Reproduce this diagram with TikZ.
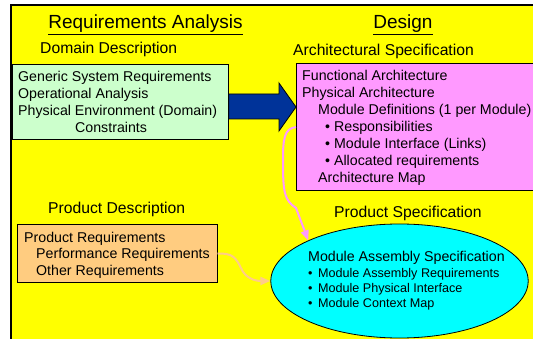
\documentclass[tikz,border=0pt]{standalone}
\usepackage{fontspec}
\setmainfont{Liberation Sans}
\usetikzlibrary{shapes.geometric,arrows.meta,positioning}
\definecolor{bgyellow}{HTML}{FFFF00}
\definecolor{domgreen}{HTML}{CCFFCC}
\definecolor{archpink}{HTML}{FF99FF}
\definecolor{prodorange}{HTML}{FFCC80}
\definecolor{speccyan}{HTML}{00FFFF}
\definecolor{arrowblue}{HTML}{003399}
\definecolor{linkorange}{HTML}{FFCC88}
\tikzset{
	box/.style={draw=black, line width=0.8pt, inner sep=0pt, anchor=north west},
	txt/.style={inner sep=0pt, anchor=base west, align=left, font=\fontsize{14.2}{17}\selectfont},
	head/.style={inner sep=0pt, anchor=base, font=\fontsize{19}{23}\selectfont},
	sub/.style={inner sep=0pt, anchor=base west, font=\fontsize{15.7}{19}\selectfont},
	link/.style={line width=2pt, -{Triangle[length=10pt,width=8pt]}}
}
\begin{document}
\begin{tikzpicture}[x=1pt,y=-1pt]
	\useasboundingbox (0,0) rectangle (533,339);
	\clip (0,0) rectangle (533,339);
	\draw[line width=2pt, fill=bgyellow] (11,5) rectangle (545,350);

	\node(ra) [head] at (145.5,28.5) {\underline{Requirements Analysis}};
	\node(dn) [head] at (403,28.5) {\underline{Design}};
	\node(dd) [sub] at (40,54) {Domain Description};
	\node(as) [sub] at (293,56) {Architectural Specification};
	\node(pd) [sub] at (48,214) {Product Description};
	\node(ps) [sub] at (334,218) {Product Specification};

	\node(dombox) [box, fill=domgreen, minimum width=216.3, minimum height=75] at (11.7,64) {};
	\node(archbox) [box, fill=archpink, minimum width=236.5, minimum height=126.5] at (296,63.5) {};
	\node(prodbox) [box, fill=prodorange, minimum width=199.4, minimum height=58.3] at (17.3,224) {};
	\node(specell) [ellipse, draw=black, line width=0.8pt, fill=speccyan, inner sep=0pt,
		minimum width=257.4, minimum height=114] at (399.5,281) {};

	\node(dt) [txt] at (18,133) {Generic System Requirements\\Operational Analysis\\Physical Environment (Domain)\\\hspace{57pt}Constraints};
	\node(at) [txt] at (302,183) {Functional Architecture\\Physical Architecture\\\hspace{16pt}Module Definitions (1 per Module)\\\hspace{23pt}• Responsibilities\\\hspace{23pt}• Module Interface (Links)\\\hspace{23pt}• Allocated requirements\\\hspace{16pt}Architecture Map};
	\node(pt) [txt, font=\fontsize{14.2}{16.4}\selectfont] at (24,275.1) {Product Requirements\\\hspace{12pt}Performance Requirements\\\hspace{12pt}Other Requirements};
	\node(mh) [txt] at (308,261.7) {Module Assembly Specification};
	\node(ml) [txt, font=\fontsize{12.6}{15}\selectfont] at (308,307.3) {•\hspace{5.5pt}Module Assembly Requirements\\•\hspace{5.5pt}Module Physical Interface\\•\hspace{5.5pt}Module Context Map};

	\draw[line width=0.8pt, fill=arrowblue] (dombox.east |- 0,94) -- (279,94) -- (279,83) -- (archbox.west |- 0,107)
		-- (279,131) -- (279,119) -- (dombox.east |- 0,119) -- cycle;
	\draw[link, archpink] (archbox.west) .. controls (284,128) and (283,140) .. (283,160)
		.. controls (283,192) and (284,200) .. (296,208) -- (specell.north west);
	\draw[link, linkorange] (prodbox.east) .. controls (233,253) and (236,258) .. (241,268)
		.. controls (245,278) and (255,281) .. (specell.west);
\end{tikzpicture}
\end{document}
